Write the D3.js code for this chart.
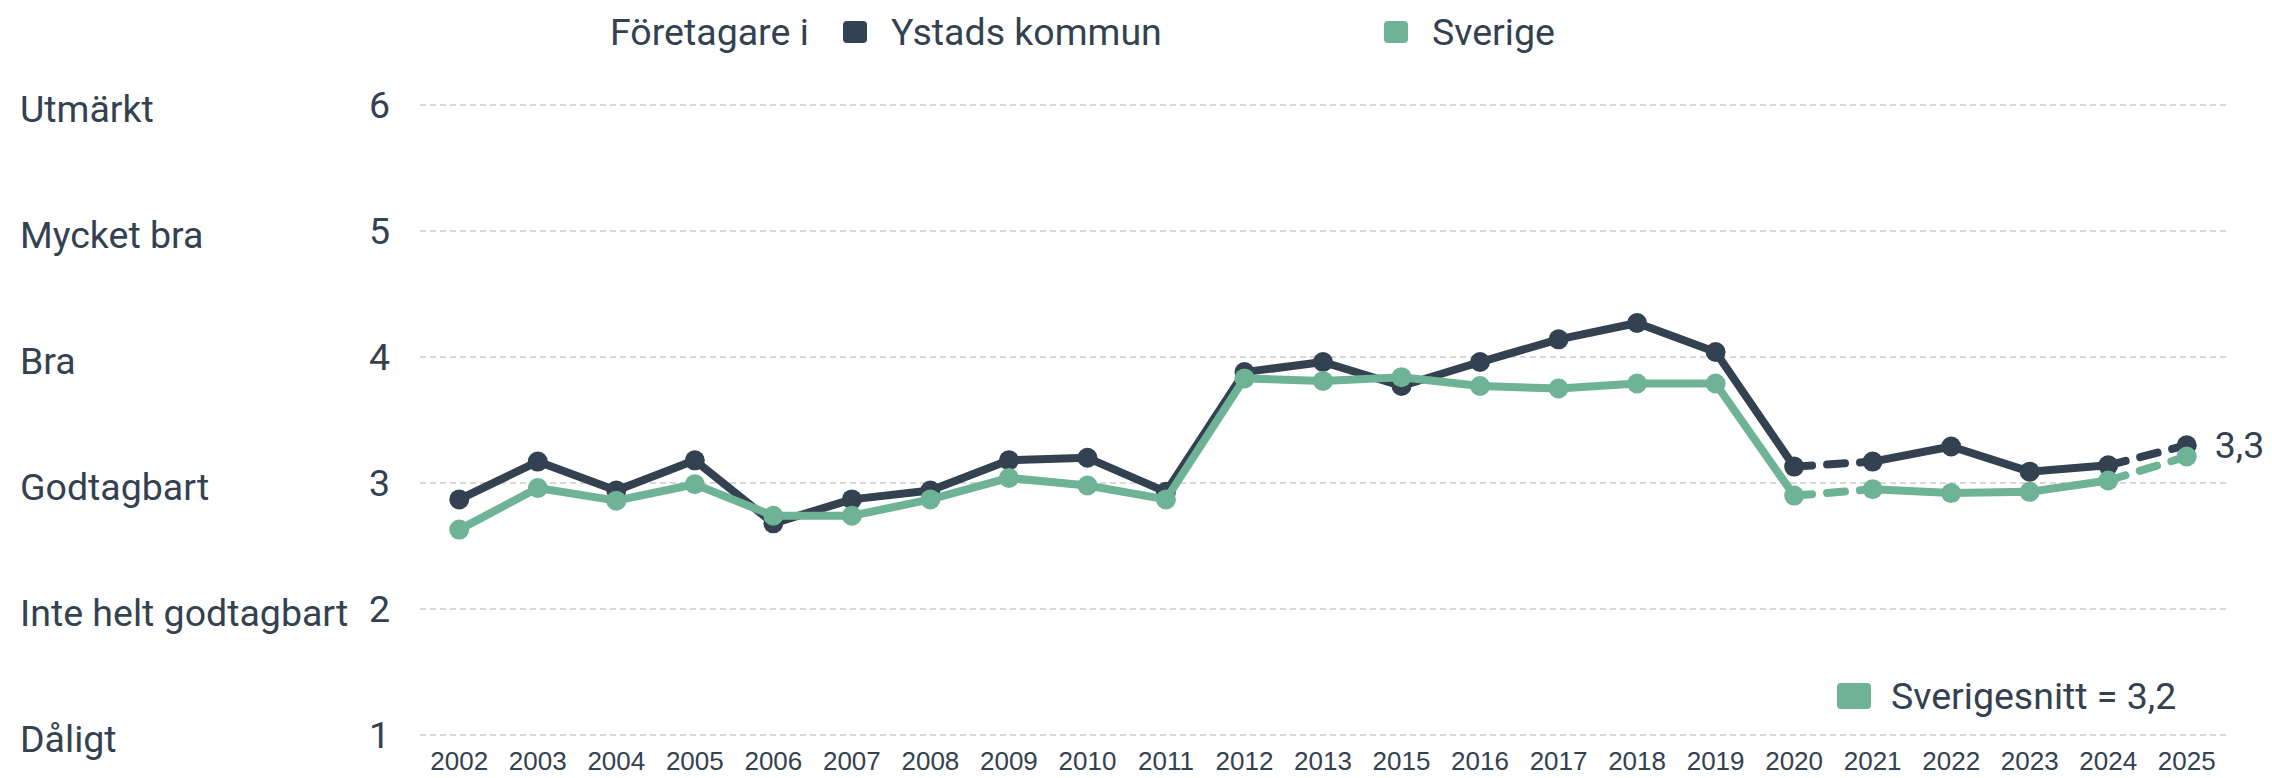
<!DOCTYPE html>
<html>
<head>
<meta charset="utf-8">
<script src="https://cdn.jsdelivr.net/npm/d3@7"></script>
<style>
  body { margin: 0; background: #fff; }
  text { fill: #334150; font-family: Roboto, sans-serif; }
</style>
</head>
<body>
<div id="chart"></div>
<script>
// data
const years = ["2002","2003","2004","2005","2006","2007","2008","2009","2010","2011","2012","2013",
  "2015","2016","2017","2018","2019","2020","2021","2022","2023","2024","2025"];
const ystad = [2.87,3.17,2.94,3.18,2.68,2.87,2.94,3.18,3.20,2.93,3.88,3.96,
  3.77,3.96,4.14,4.27,4.04,3.13,3.17,3.29,3.09,3.14,3.30];
const sverige = [2.63,2.96,2.86,2.99,2.74,2.74,2.87,3.04,2.98,2.87,3.83,3.81,
  3.84,3.77,3.75,3.79,3.79,2.90,2.95,2.92,2.93,3.02,3.21];
const dashedStarts = ["2020","2024"];  // segment starting at these years is dashed
const yTicks = [1,2,3,4,5,6];
const yNames = ["Dåligt","Inte helt godtagbart","Godtagbart","Bra","Mycket bra","Utmärkt"];
const seriesNames = ["Ystads kommun","Sverige"];
const lastLabel = "3,3";
const avgLabel = "Sverigesnitt = 3,2";

const width = 2272, height = 778;
const margin = ({ top: 105, right: 46, bottom: 43, left: 420 });
const dark = "#334150", green = "#6fb396";
const fontSize = "37.5px";

const svg = d3.select("#chart")
  .append("svg")
  .attr("width", width)
  .attr("height", height);

const x = d3.scalePoint()
  .domain(years)
  .range([margin.left, width - margin.right])
  .padding(0.5);

const y = d3.scaleLinear()
  .domain([1, 6])
  .range([height - margin.bottom, margin.top]);

// dashed grid lines
svg.append("g")
  .selectAll("line")
  .data(yTicks)
  .join("line")
  .attr("x1", margin.left)
  .attr("x2", width - margin.right)
  .attr("y1", d => y(d))
  .attr("y2", d => y(d))
  .attr("stroke", "#cccccc")
  .attr("stroke-width", 1.5)
  .attr("stroke-dasharray", "6,4");

// y axis numbers
svg.append("g")
  .selectAll("text")
  .data(yTicks)
  .join("text")
  .attr("x", 390)
  .attr("y", d => y(d))
  .attr("dy", "0.35em")
  .attr("text-anchor", "end")
  .style("font-size", fontSize)
  .text(d => d);

// y axis names
svg.append("g")
  .selectAll("text")
  .data(yTicks)
  .join("text")
  .attr("x", 20)
  .attr("y", d => y(d))
  .attr("dy", "0.45em")
  .style("font-size", fontSize)
  .text((d, i) => yNames[i]);

// x axis year labels
svg.append("g")
  .selectAll("text")
  .data(years)
  .join("text")
  .attr("x", d => x(d))
  .attr("y", 761)
  .attr("dy", "0.35em")
  .attr("text-anchor", "middle")
  .style("font-family", "'Liberation Sans', Arial, sans-serif")
  .style("font-size", "26px")
  .text(d => d);

const line = d3.line()
  .x(d => x(d.year))
  .y(d => y(d.value));

function drawSeries(values, color) {
  const pts = years.map((yr, i) => ({ year: yr, value: values[i] }));
  const segs = d3.pairs(pts);
  const g = svg.append("g");
  g.selectAll("path")
    .data(segs)
    .join("path")
    .attr("d", line)
    .attr("fill", "none")
    .attr("stroke", color)
    .attr("stroke-width", 8)
    .attr("stroke-linecap", "round")
    .attr("stroke-dasharray", d => dashedStarts.includes(d[0].year) ? "18,15" : null);
  g.selectAll("circle")
    .data(pts)
    .join("circle")
    .attr("cx", d => x(d.year))
    .attr("cy", d => y(d.value))
    .attr("r", 10)
    .attr("fill", color);
}

drawSeries(ystad, dark);
drawSeries(sverige, green);

// end label
svg.append("text")
  .attr("x", x(years[years.length - 1]) + 28)
  .attr("y", y(ystad[ystad.length - 1]))
  .attr("dy", "0.35em")
  .style("font-size", fontSize)
  .text(lastLabel);

// top legend
svg.append("text")
  .attr("x", 610)
  .attr("y", 32)
  .attr("dy", "0.35em")
  .style("font-size", fontSize)
  .text("Företagare i");

const legendX = [843, 1384];
const legendColors = [dark, green];
seriesNames.forEach((name, i) => {
  svg.append("rect")
    .attr("x", legendX[i])
    .attr("y", 21)
    .attr("width", 24)
    .attr("height", 22)
    .attr("rx", 4)
    .attr("fill", legendColors[i]);
  svg.append("text")
    .attr("x", legendX[i] + 48)
    .attr("y", 32)
    .attr("dy", "0.35em")
    .style("font-size", fontSize)
    .text(name);
});

// average legend
svg.append("rect")
  .attr("x", 1837)
  .attr("y", 683)
  .attr("width", 34)
  .attr("height", 26)
  .attr("rx", 4)
  .attr("fill", green);
svg.append("text")
  .attr("x", 1891)
  .attr("y", 696)
  .attr("dy", "0.35em")
  .style("font-size", fontSize)
  .text(avgLabel);
</script>
</body>
</html>
